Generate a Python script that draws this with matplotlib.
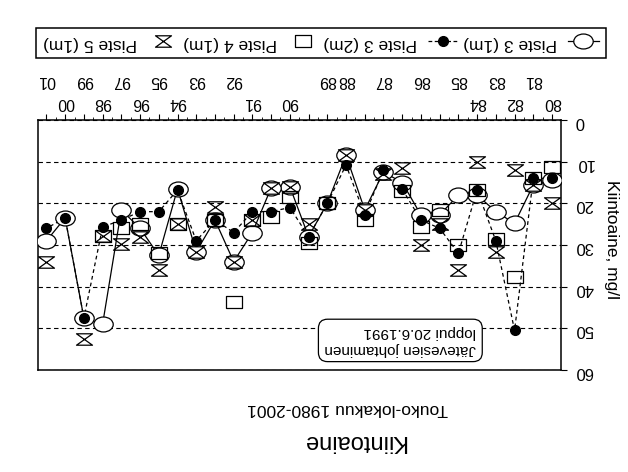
import numpy as np
import matplotlib
matplotlib.use('Agg')
import matplotlib.pyplot as plt
from matplotlib.path import Path
from matplotlib.transforms import Affine2D, blended_transform_factory
from matplotlib.lines import Line2D

plt.rcParams['font.family'] = ['Liberation Sans', 'DejaVu Sans']

nan = np.nan
# one sample per position, 1980 -> 2001 (May-October)
sample = np.arange(28)
piste3_1m = [14.4, 15.6, 24.8, 22, 18, 18, 22.8, 22.8, 15, 12.5, 21.6, 8.5, 20, 28,
             16, 16.3, 27, 34, 24, 31.6, 16.5, 32.5, 26, 21.6, 49, 47.5, 23.5, 29]
piste3_2m = [14, 14, 50.5, 29, 16.8, 32, 26, 24, 16.6, 12, 22.8, 10.8, 20, 28,
             21, 22, 22, 27, 24, 29, 16.8, 22, 22, 24, 25.7, 47.5, 23.5, 26]
piste4_1m = [11.3, 14, 37.7, 28.5, 16.8, 30, 21.6, 25.7, 17, nan, 24, nan, 20, 29.5,
             18.5, 23.3, 24, 43.7, 24, nan, 25, 32, 25, 26, 27.9, nan, nan, nan]
piste5_1m = [20, 15.6, 12, 31.7, 10, 36, 25, 30, 11.5, 13, 21.6, 8.5, nan, 25,
             16, 16.3, 24, 34, 20.8, 31.6, 25, 36, 28, 29.8, 27.9, 52.5, nan, 34]

years_low = ['80', '82', '84', '90', '91', '94', '96', '98', '00']
years_low_pos = [0, 2, 4, 14, 16, 20, 22, 24, 26]
years_up = ['81', '83', '85', '86', '87', '88', '89', '92', '93', '95', '97', '99', '01']
years_up_pos = [1, 3, 5, 7, 9, 11, 12, 17, 19, 21, 23, 25, 27]

# marker shapes
ellipse = Path.unit_circle().transformed(Affine2D().scale(1.3, 1.0))
rect = Path([(-1.35, -1), (1.35, -1), (1.35, 1), (-1.35, 1), (-1.35, -1)],
            [Path.MOVETO, Path.LINETO, Path.LINETO, Path.LINETO, Path.CLOSEPOLY])
hourglass = Path([(-1.4, 1), (1.4, 1), (-1.4, -1), (1.4, -1), (-1.4, 1)],
                 [Path.MOVETO, Path.LINETO, Path.LINETO, Path.LINETO, Path.CLOSEPOLY])

W, H = 628, 472
fig = plt.figure(figsize=(W / 100, H / 100), dpi=100)
ax = fig.add_axes([38 / W, 1 - 370 / H, 523 / W, 250 / H])

ax.plot(sample, piste3_1m, '-', color='k', lw=0.9, zorder=2)
ax.plot(sample, piste3_2m, color='k', lw=0.9, ls=(0, (3, 2.5)), zorder=2)
ax.plot(sample, piste3_1m, ls='none', marker=ellipse, ms=14, mfc='white', mec='k', mew=0.9, zorder=3)
ax.plot(sample, piste4_1m, ls='none', marker=rect, ms=11.5, mfc='none', mec='k', mew=0.9, zorder=4)
ax.plot(sample, piste5_1m, ls='none', marker=hourglass, ms=11.5, mfc='none', mec='k', mew=0.9, zorder=4)
ax.plot(sample, piste3_2m, ls='none', marker='o', ms=7, mfc='k', mec='k', zorder=5)

ax.set_xlim(27.45, -0.48)
ax.set_ylim(60, 0)
ax.set_yticks(range(0, 61, 10))
ax.grid(axis='y', color='k', ls=(0, (4, 3)), lw=0.8)
ax.yaxis.tick_right()
ax.tick_params(axis='y', direction='out', length=4, labelsize=12, pad=6)
for lbl in ax.get_yticklabels():
    lbl.set_rotation(180)

ax.xaxis.tick_top()
ax.set_xticks(sample)
ax.set_xticks(sample[:-1] + 0.5, minor=True)
ax.tick_params(axis='x', which='major', direction='out', length=4.5, labeltop=False, labelbottom=False)
ax.tick_params(axis='x', which='minor', direction='out', length=2, top=True, bottom=False)
for s in ax.spines.values():
    s.set_linewidth(1.1)

tr = blended_transform_factory(ax.transData, fig.transFigure)
for lab, pos in zip(years_low, years_low_pos):
    ax.text(pos, 1 - 102 / H, lab, transform=tr, rotation=180, ha='center', va='center', fontsize=11.5)
for lab, pos in zip(years_up, years_up_pos):
    ax.text(pos, 1 - 80 / H, lab, transform=tr, rotation=180, ha='center', va='center', fontsize=11.5)

ax.text(8.1, 52.9, 'Jätevesien johtaminen\nloppui 20.6.1991', rotation=180, ha='center', va='center',
        multialignment='left', fontsize=11,
        bbox=dict(boxstyle='round,pad=0.4,rounding_size=0.6', fc='white', ec='k', lw=0.9), zorder=6)

fig.text(612 / W, 1 - 240 / H, 'Kiintoaine, mg/l', rotation=270, ha='center', va='center', fontsize=12.5)
fig.text(354 / W, 1 - 441 / H, 'Kiintoaine', rotation=180, ha='center', va='center', fontsize=17)
fig.text(348 / W, 1 - 408 / H, 'Touko-lokakuu 1980-2001', rotation=180, ha='center', va='center', fontsize=12.5)

handles = [
    Line2D([], [], ls='none', marker=hourglass, ms=11.5, mfc='none', mec='k', mew=0.9),
    Line2D([], [], ls='none', marker=rect, ms=11.5, mfc='none', mec='k', mew=0.9),
    Line2D([], [], color='k', lw=0.9, ls=(0, (3, 2)), marker='o', ms=7, mfc='k', mec='k'),
    Line2D([], [], color='k', lw=0.9, ls='-', marker=ellipse, ms=14, mfc='white', mec='k', mew=0.9),
]
labels = ['Piste 5 (1m)', 'Piste 4 (1m)', 'Piste 3 (2m)', 'Piste 3 (1m)']
leg = fig.legend(handles, labels, loc='center', bbox_to_anchor=(36 / W, 1 - 65 / H, 570 / W, 44 / H),
                 mode='expand', ncol=4, markerfirst=False, fancybox=False, edgecolor='k',
                 framealpha=1, fontsize=12.5, handlelength=1.8, handletextpad=0.6,
                 borderaxespad=0, columnspacing=1.0)
leg.get_frame().set_linewidth(1.1)
for t in leg.get_texts():
    t.set_rotation(180)

fig.savefig('out.png', dpi=100)
